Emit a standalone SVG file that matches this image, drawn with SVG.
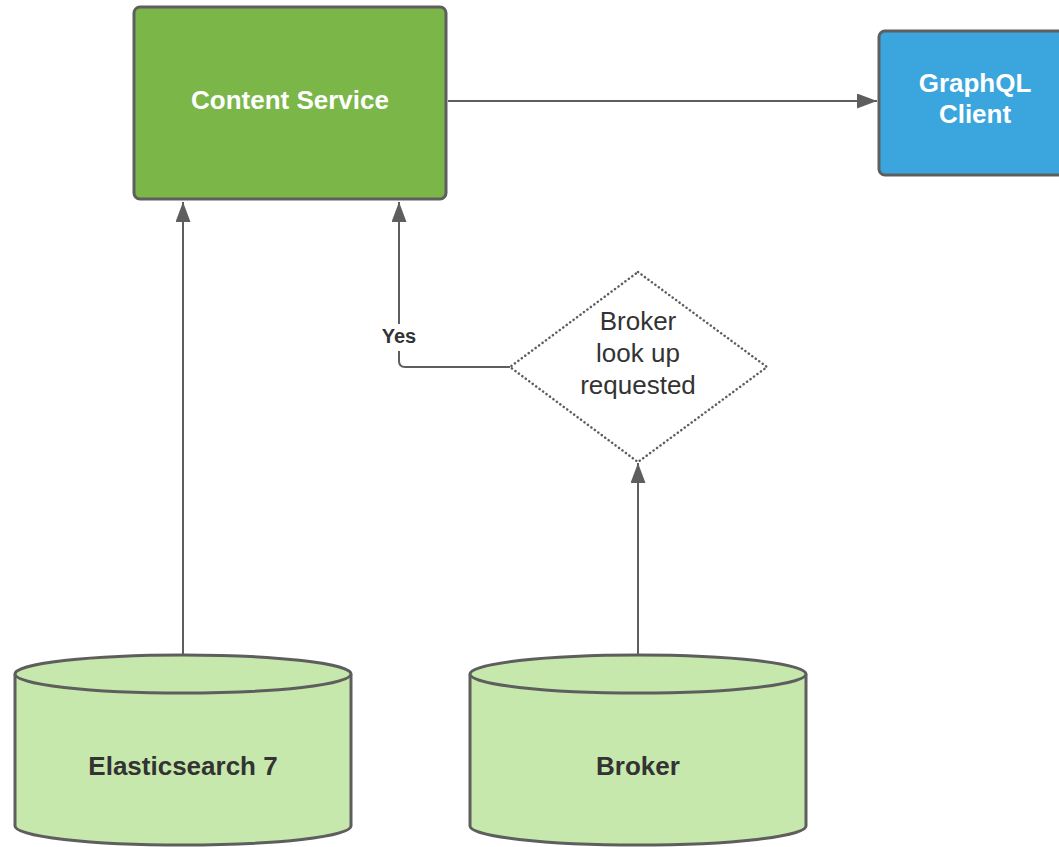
<svg xmlns="http://www.w3.org/2000/svg" width="1059" height="847" viewBox="0 0 1059 847">
<style>
.box{stroke:#5e5e5e;stroke-width:3}
.wt{font-family:"Liberation Sans",Arial,sans-serif;font-weight:bold;font-size:26px;fill:#ffffff;text-anchor:middle}
.dt{font-family:"Liberation Sans",Arial,sans-serif;font-weight:bold;font-size:26px;fill:#333333;text-anchor:middle}
.rt{font-family:"Liberation Sans",Arial,sans-serif;font-size:26px;fill:#333333;text-anchor:middle}
.cyl{fill:#c7e8ac;stroke:#5e5e5e;stroke-width:3}
.conn{fill:none;stroke:#5e5e5e;stroke-width:2}
</style>
<defs>
<marker id="ah" markerWidth="20" markerHeight="15" refX="20" refY="7.5" orient="auto" markerUnits="userSpaceOnUse">
<path d="M0,0 L20,7.5 L0,15 Z" fill="#5e5e5e"/>
</marker>
</defs>
<rect width="1059" height="847" fill="#ffffff"/>
<g id="connectors">
<path class="conn" d="M448,101 L877,101" marker-end="url(#ah)"/>
<path class="conn" d="M183,655 L183,202" marker-end="url(#ah)"/>
<path class="conn" d="M510,367 L405,367 Q399,367 399,361 L399,202" marker-end="url(#ah)"/>
<path class="conn" d="M638,656 L638,463" marker-end="url(#ah)"/>
<rect x="378" y="324" width="42" height="27" fill="#ffffff"/>
<text x="399" y="343" font-family="Liberation Sans, Arial, sans-serif" font-weight="bold" font-size="20" fill="#333333" text-anchor="middle">Yes</text>
</g>
<g id="content-service">
<rect class="box" x="134" y="7" width="312" height="192" rx="6" fill="#7ab648"/>
<text class="wt" x="290" y="109">Content Service</text>
</g>
<g id="graphql-client">
<rect class="box" x="879" y="31" width="192" height="144" rx="6" fill="#3aa6dd"/>
<text class="wt" x="975" y="92">GraphQL</text>
<text class="wt" x="975" y="123">Client</text>
</g>
<g id="decision">
<path d="M638,272 L767,367 L638,462 L510,367 Z" fill="#ffffff" stroke="#5e5e5e" stroke-width="2.5" stroke-dasharray="0.1 4.2" stroke-linecap="round"/>
<text class="rt" x="638" y="330">Broker</text>
<text class="rt" x="638" y="362">look up</text>
<text class="rt" x="638" y="394">requested</text>
</g>
<g id="elasticsearch">
<path class="cyl" d="M15,674 A168,19 0 0 1 351,674 L351,826 A168,19 0 0 1 15,826 Z"/>
<path class="cyl" d="M15,674 A168,19 0 0 0 351,674" fill="none"/>
<text class="dt" x="183" y="775">Elasticsearch 7</text>
</g>
<g id="broker">
<path class="cyl" d="M470,674 A168,19 0 0 1 806,674 L806,826 A168,19 0 0 1 470,826 Z"/>
<path class="cyl" d="M470,674 A168,19 0 0 0 806,674" fill="none"/>
<text class="dt" x="638" y="775">Broker</text>
</g>
</svg>
